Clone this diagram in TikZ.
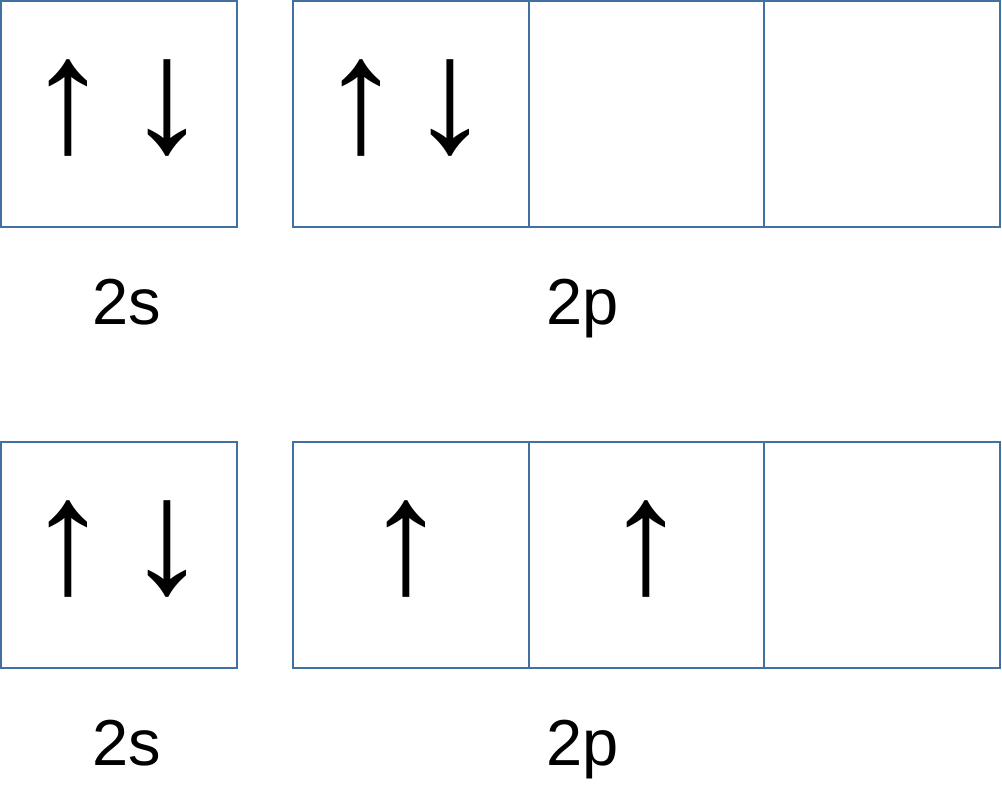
\documentclass[tikz,border=0pt]{standalone}
\usepackage{fontspec}
\setmainfont{Liberation Sans}
\definecolor{BoxClr}{RGB}{66,112,160}

\begin{document}
\begin{tikzpicture}[x=0.02cm,y=-0.02cm,
  orb/.style={draw=BoxClr,line width=1.1pt,minimum width=4.72cm,minimum height=4.52cm,inner sep=0pt},
  spin/.style={font=\fontsize{93}{95}\selectfont,inner sep=0pt},
  lbl/.style={font=\fontsize{37}{40}\selectfont,inner sep=0pt,anchor=base}]
\useasboundingbox (0,0) rectangle (1002,792);

% ground state
\node[orb] (s1) at (119,114) {};
\node[orb] (pa1) at (411,114) {};
\node[orb] (pb1) at (646.5,114) {};
\node[orb] (pc1) at (882,114) {};
\node[spin] (s1u) at (68,108.5) {↑};
\node[spin] (s1d) at (167,108.5) {↓};
\node[spin] (pa1u) at (361,108.5) {↑};
\node[spin] (pa1d) at (450,108.5) {↓};
\node[lbl] (ls1) at (127,324) {2s};
\node[lbl] (lp1) at (583,324) {2p};

% second configuration
\node[orb] (s2) at (119,555) {};
\node[orb] (pa2) at (411,555) {};
\node[orb] (pb2) at (646.5,555) {};
\node[orb] (pc2) at (882,555) {};
\node[spin] (s2u) at (68,549.5) {↑};
\node[spin] (s2d) at (167,549.5) {↓};
\node[spin] (pa2u) at (406,549.5) {↑};
\node[spin] (pb2u) at (646,549.5) {↑};
\node[lbl] (ls2) at (127,765) {2s};
\node[lbl] (lp2) at (583,765) {2p};

\end{tikzpicture}
\end{document}
